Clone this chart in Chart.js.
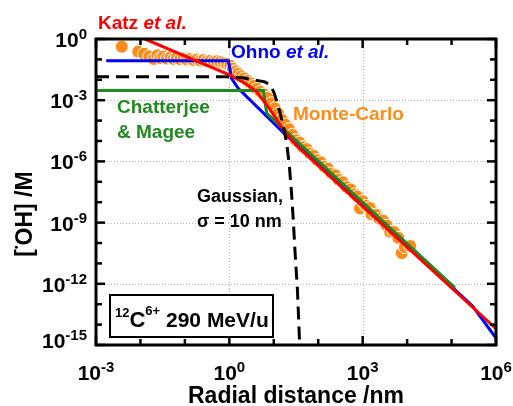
<!DOCTYPE html>
<html><head><meta charset="utf-8">
<script src="https://cdn.jsdelivr.net/npm/chart.js@4.4.1/dist/chart.umd.min.js"></script>
<style>html,body{margin:0;padding:0;background:#fff}canvas{display:block}</style>
</head><body>
<canvas id="c" width="513" height="406"></canvas>
<script>
// ---- data (radial distance in nm, [OH] in M) ----
const katzX = [0.0126, 1, 2.0, 3.98, 7.94, 15.8, 31.6, 1e6];
const katzY = [1.0, 0.0174, 0.0079, 0.0028, 4.0e-4, 4.0e-5, 6.3e-6, 6.3e-15];

const ohnoX = [0.0017, 0.955, 1.12, 1.58, 15.8, 6026, 3.0e5, 1e6];
const ohnoY = [0.087, 0.087, 0.0117, 0.0038, 2.8e-5, 2.1e-10, 7.9e-14, 2.2e-15];

const chatX = [0.001, 5.82, 6.92, 6026, 1.2e5];
const chatY = [0.00295, 0.00295, 2.3e-4, 2.6e-10, 6.3e-13];

const gaussX = [0.001, 0.794, 2.0, 3.47, 6.31, 8.32, 10, 11.5, 13.8, 16.6, 19.5, 22.4, 25.1, 27.5, 30.2, 33.9, 37.6, 38.9];
const gaussY = [0.0141, 0.0141, 0.0126, 0.01, 0.0079, 0.0056, 0.0025, 0.001, 2.5e-4, 4.5e-5, 7.9e-6, 6.3e-7, 2.8e-8, 1.26e-9, 3.2e-11, 6.3e-13, 2.5e-15, 3.2e-16];

const mcX = [0.0038, 0.0089, 0.012, 0.0158, 0.020, 0.024, 0.0282, 0.0331, 0.0398, 0.0479, 0.0562, 0.066, 0.079, 0.095, 0.112, 0.132, 0.158, 0.19, 0.224, 0.263, 0.316, 0.38, 0.447, 0.525, 0.63, 0.76, 0.89,
  1.05, 1.2, 1.38, 1.58, 1.86, 2.19, 2.57, 3.02, 3.55, 4.17, 5.0, 6.0, 7.2, 8.7, 10.5, 12.6, 15.1, 18.2, 21.9, 26.3, 31.6, 38, 45.7, 55, 66, 79, 95,
  115, 138, 166, 200, 240, 288, 355, 437, 537, 661, 759, 871, 1000, 1202, 1445, 1585, 1995, 2400, 2884, 3467, 4169, 5012, 6310, 7586, 8913, 11750];
const mcY = [0.42, 0.24, 0.19, 0.141, 0.105, 0.158, 0.117, 0.138, 0.110, 0.126, 0.105, 0.117, 0.102, 0.112, 0.098, 0.105, 0.093, 0.1, 0.087, 0.093, 0.083, 0.087, 0.078, 0.081, 0.074, 0.068, 0.06,
  0.048, 0.035, 0.026, 0.02, 0.015, 0.0117, 0.0089, 0.0068, 0.005, 0.0036, 0.0026, 0.0019, 0.0013, 7.0e-4, 4.0e-4, 2.2e-4, 1.1e-4, 6.3e-5, 3.8e-5, 2.0e-5, 1.1e-5, 8.3e-6, 5.0e-6, 4.0e-6, 2.4e-6, 1.9e-6, 1.15e-6,
  8.9e-7, 5.5e-7, 4.4e-7, 2.6e-7, 2.1e-7, 1.26e-7, 9.5e-8, 5.5e-8, 4.2e-8, 2.4e-8, 1.9e-8, 5.0e-9, 1.12e-8, 6.6e-9, 5.2e-9, 2.5e-9, 2.4e-9, 1.5e-9, 1.26e-9, 7.1e-10, 3.5e-10, 3.5e-10, 1.8e-10, 3.2e-11, 6.3e-11, 7.1e-11];

// axis ticks
const xTickVals = [1e-3, 1, 1e3, 1e6];
const xTickExp = ['-3', '0', '3', '6'];
const yTickVals = [1, 1e-3, 1e-6, 1e-9, 1e-12, 1e-15];
const yTickExp = ['0', '-3', '-6', '-9', '-12', '-15'];
const xDecades = [1e-3, 1e-2, 1e-1, 1, 1e1, 1e2, 1e3, 1e4, 1e5, 1e6];
const yDecades = [1, 1e-1, 1e-2, 1e-3, 1e-4, 1e-5, 1e-6, 1e-7, 1e-8, 1e-9, 1e-10, 1e-11, 1e-12, 1e-13, 1e-14, 1e-15];
const xGrid = [1, 1e3];
const yGrid = [1e-3, 1e-6, 1e-9, 1e-12];

const FONT = '"Liberation Sans", Arial, Helvetica, sans-serif';
const RED = '#FF0000', BLUE = '#0000FF', GREEN = '#1F8A1F', ORANGE = '#FF8C1A';

function pts(xs, ys) { return xs.map((x, i) => ({x: x, y: ys[i]})); }

function seg(ctx, parts, x, y) {
  // parts: [text, font, color, dy]
  let cx = x;
  parts.forEach(p => {
    ctx.font = p[1]; ctx.fillStyle = p[2];
    ctx.fillText(p[0], cx, y - (p[3] || 0));
    cx += ctx.measureText(p[0]).width;
  });
}
function segWidth(ctx, parts) {
  let w = 0;
  parts.forEach(p => { ctx.font = p[1]; w += ctx.measureText(p[0]).width; });
  return w;
}

const decor = {
  id: 'decor',
  beforeDatasetsDraw(chart) {
    const {ctx, chartArea: a, scales: {x, y}} = chart;
    ctx.save();
    ctx.strokeStyle = '#b8b8b8'; ctx.lineWidth = 1; ctx.setLineDash([1, 2]);
    xGrid.forEach(v => {
      const px = Math.round(x.getPixelForValue(v)) + 0.5;
      ctx.beginPath(); ctx.moveTo(px, a.top); ctx.lineTo(px, a.bottom); ctx.stroke();
    });
    yGrid.forEach(v => {
      const py = Math.round(y.getPixelForValue(v)) + 0.5;
      ctx.beginPath(); ctx.moveTo(a.left, py); ctx.lineTo(a.right, py); ctx.stroke();
    });
    ctx.restore();
  },
  afterDatasetsDraw(chart) {
    const {ctx, chartArea: a, scales: {x, y}} = chart;
    ctx.save();
    ctx.setLineDash([]);
    // ticks (inward)
    ctx.strokeStyle = '#000'; ctx.lineWidth = 2.5;
    xDecades.forEach(v => {
      const px = x.getPixelForValue(v);
      const L = xTickVals.includes(v) ? 9 : 6;
      ctx.beginPath(); ctx.moveTo(px, a.bottom); ctx.lineTo(px, a.bottom - L); ctx.stroke();
      ctx.beginPath(); ctx.moveTo(px, a.top); ctx.lineTo(px, a.top + L); ctx.stroke();
    });
    yDecades.forEach(v => {
      const py = y.getPixelForValue(v);
      const L = yTickVals.includes(v) ? 9 : 6;
      ctx.beginPath(); ctx.moveTo(a.left, py); ctx.lineTo(a.left + L, py); ctx.stroke();
      ctx.beginPath(); ctx.moveTo(a.right, py); ctx.lineTo(a.right - L, py); ctx.stroke();
    });
    // frame
    ctx.lineWidth = 3;
    ctx.strokeRect(a.left, a.top, a.right - a.left, a.bottom - a.top);

    const big = 'bold 21px ' + FONT, sup = 'bold 15px ' + FONT;
    ctx.textBaseline = 'alphabetic'; ctx.textAlign = 'left';
    // x tick labels
    xTickVals.forEach((v, i) => {
      const parts = [['10', big, '#000', 0], [xTickExp[i], sup, '#000', 8]];
      const w = segWidth(ctx, parts);
      seg(ctx, parts, x.getPixelForValue(v) - w / 2, a.bottom + 35);
    });
    // y tick labels
    yTickVals.forEach((v, i) => {
      const parts = [['10', big, '#000', 0], [yTickExp[i], sup, '#000', 8]];
      const w = segWidth(ctx, parts);
      const py = y.getPixelForValue(v);
      const off = (i === yTickVals.length - 1) ? 3 : 8;
      seg(ctx, parts, a.left - 9 - w, py + off);
    });
    // axis titles
    const tf = 'bold 23px ' + FONT;
    ctx.font = tf; ctx.fillStyle = '#000'; ctx.textAlign = 'center';
    ctx.fillText('Radial distance /nm', (a.left + a.right) / 2, 403);
    ctx.textAlign = 'left';
    ctx.save();
    ctx.translate(32, 214); ctx.rotate(-Math.PI / 2);
    const yt = [['[', tf, '#000', 0], ['\u2022', 'bold 10px ' + FONT, '#000', 12], ['OH] /M', tf, '#000', 0]];
    seg(ctx, yt, -segWidth(ctx, yt) / 2, 0);
    ctx.restore();

    // annotations
    const f = 'bold 19px ' + FONT, fi = 'italic bold 19px ' + FONT;
    seg(ctx, [['Katz ', f, RED], ['et al.', fi, RED]], 98, 29);
    seg(ctx, [['Ohno ', f, BLUE], ['et al.', fi, BLUE]], 231, 58);
    seg(ctx, [['Chatterjee', f, GREEN]], 117, 113);
    seg(ctx, [['& Magee', f, GREEN]], 117, 138);
    seg(ctx, [['Monte-Carlo', f, ORANGE]], 293, 120);
    seg(ctx, [['Gaussian,', 'bold 18px ' + FONT, '#000']], 197, 202);
    seg(ctx, [['\u03C3 = 10 nm', 'bold 18px ' + FONT, '#000']], 197, 227);

    // ion box
    ctx.fillStyle = '#fff'; ctx.strokeStyle = '#000'; ctx.lineWidth = 2;
    ctx.fillRect(110, 295, 163, 42);
    ctx.strokeRect(110, 295, 163, 42);
    seg(ctx, [['12', 'bold 13px ' + FONT, '#000', 10], ['C', 'bold 22px ' + FONT, '#000', 0],
              ['6+', 'bold 13px ' + FONT, '#000', 12], [' 290 MeV/u', 'bold 21px ' + FONT, '#000', 0]], 115, 327);
    ctx.restore();
  }
};

new Chart(document.getElementById('c'), {
  type: 'scatter',
  data: {
    datasets: [
      {label: 'Gaussian', data: pts(gaussX, gaussY), showLine: true, borderColor: '#000', borderWidth: 3,
       borderDash: [13, 7], pointRadius: 0, tension: 0, order: 0},
      {label: 'Katz et al.', data: pts(katzX, katzY), showLine: true, borderColor: RED, borderWidth: 3, pointRadius: 0, tension: 0, order: 1},
      {label: 'Chatterjee & Magee', data: pts(chatX, chatY), showLine: true, borderColor: GREEN, borderWidth: 3, pointRadius: 0, tension: 0, order: 2},
      {label: 'Ohno et al.', data: pts(ohnoX, ohnoY), showLine: true, borderColor: BLUE, borderWidth: 3, pointRadius: 0, tension: 0, order: 3},
      {label: 'Monte-Carlo', data: pts(mcX, mcY), showLine: false, pointRadius: 6.5, pointHoverRadius: 6.5,
       backgroundColor: ORANGE, borderColor: '#fff', borderWidth: 1, order: 10}
    ]
  },
  options: {
    responsive: false, devicePixelRatio: 1, animation: false,
    layout: {padding: {left: 96, top: 39, right: 17, bottom: 61}},
    plugins: {legend: {display: false}, tooltip: {enabled: false}},
    scales: {
      x: {type: 'logarithmic', min: 1e-3, max: 1e6, ticks: {display: false}, grid: {display: false},
          border: {display: false}, afterFit(s) { s.height = 0; }},
      y: {type: 'logarithmic', min: 1e-15, max: 1, ticks: {display: false}, grid: {display: false},
          border: {display: false}, afterFit(s) { s.width = 0; }}
    }
  },
  plugins: [decor]
});
</script>
</body></html>
